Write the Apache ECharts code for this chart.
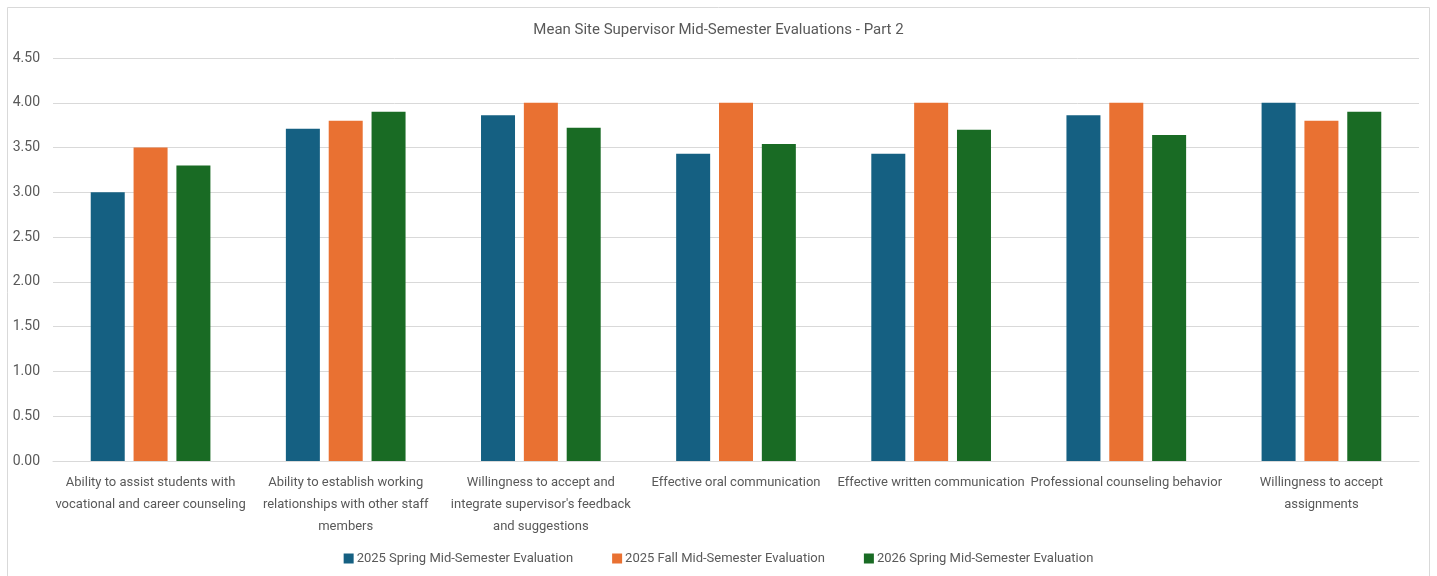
<!DOCTYPE html>
<html>
<head>
<meta charset="utf-8">
<script src="https://cdn.jsdelivr.net/npm/echarts@6/dist/echarts.min.js"></script>
<style>
html,body{margin:0;padding:0;background:#fff;}
#chart{width:1437px;height:576px;}
</style>
</head>
<body>
<div id="chart"></div>
<script>
const categories = [
  "Ability to assist students with\nvocational and career counseling",
  "Ability to establish working\nrelationships with other staff\nmembers",
  "Willingness to accept and\nintegrate supervisor's feedback\nand suggestions",
  "Effective oral communication",
  "Effective written communication",
  "Professional counseling behavior",
  "Willingness to accept\nassignments"
];
const seriesNames = [
  "2025 Spring Mid-Semester Evaluation",
  "2025 Fall Mid-Semester Evaluation",
  "2026 Spring Mid-Semester Evaluation"
];
const spring2025 = [3.00, 3.71, 3.86, 3.43, 3.43, 3.86, 4.00];
const fall2025   = [3.50, 3.80, 4.00, 4.00, 4.00, 4.00, 3.80];
const spring2026 = [3.30, 3.90, 3.72, 3.54, 3.70, 3.64, 3.90];
const colors = ["#156082", "#E97132", "#196B24"];

const FONT = "Roboto, 'Noto Sans', sans-serif";
const chart = echarts.init(document.getElementById('chart'), null, {renderer: 'canvas'});
const values = [spring2025, fall2025, spring2026];
chart.setOption({
  animation: false,
  backgroundColor: '#ffffff',
  textStyle: {fontFamily: FONT, color: '#595959'},
  graphic: [{
    type: 'rect', left: 5, top: 5, silent: true, z: -1,
    shape: {width: 1422, height: 600},
    style: {fill: 'none', stroke: '#d9d9d9', lineWidth: 1}
  }],
  title: {
    text: 'Mean Site Supervisor Mid-Semester Evaluations - Part 2',
    left: 'center', top: 18,
    textStyle: {fontFamily: FONT, fontSize: 15, fontWeight: 'normal', color: '#595959'}
  },
  legend: {
    data: seriesNames,
    top: 547, left: 'center',
    itemWidth: 10, itemHeight: 10, itemGap: 39,
    icon: 'rect',
    textStyle: {fontFamily: FONT, fontSize: 13, color: '#595959', padding: [0,0,0,-2]}
  },
  grid: {left: 53, right: 18, top: 58, bottom: 115, containLabel: false},
  xAxis: {
    type: 'category',
    data: categories,
    axisTick: {show: false},
    axisLine: {lineStyle: {color: '#d9d9d9', width: 1}},
    axisLabel: {
      interval: 0, margin: 11,
      fontFamily: FONT, fontSize: 13, color: '#595959', lineHeight: 22
    }
  },
  yAxis: {
    type: 'value', min: 0, max: 4.5, interval: 0.5,
    axisLine: {show: false}, axisTick: {show: false},
    splitLine: {lineStyle: {color: '#d9d9d9', width: 1}},
    axisLabel: {
      margin: 13, fontFamily: FONT, fontSize: 14, color: '#595959',
      formatter: v => v.toFixed(2)
    }
  },
  series: seriesNames.map((n, i) => ({
    name: n, type: 'bar', data: values[i],
    barWidth: 34, barGap: '26%',
    itemStyle: {color: colors[i]}
  }))
});
</script>
</body>
</html>
